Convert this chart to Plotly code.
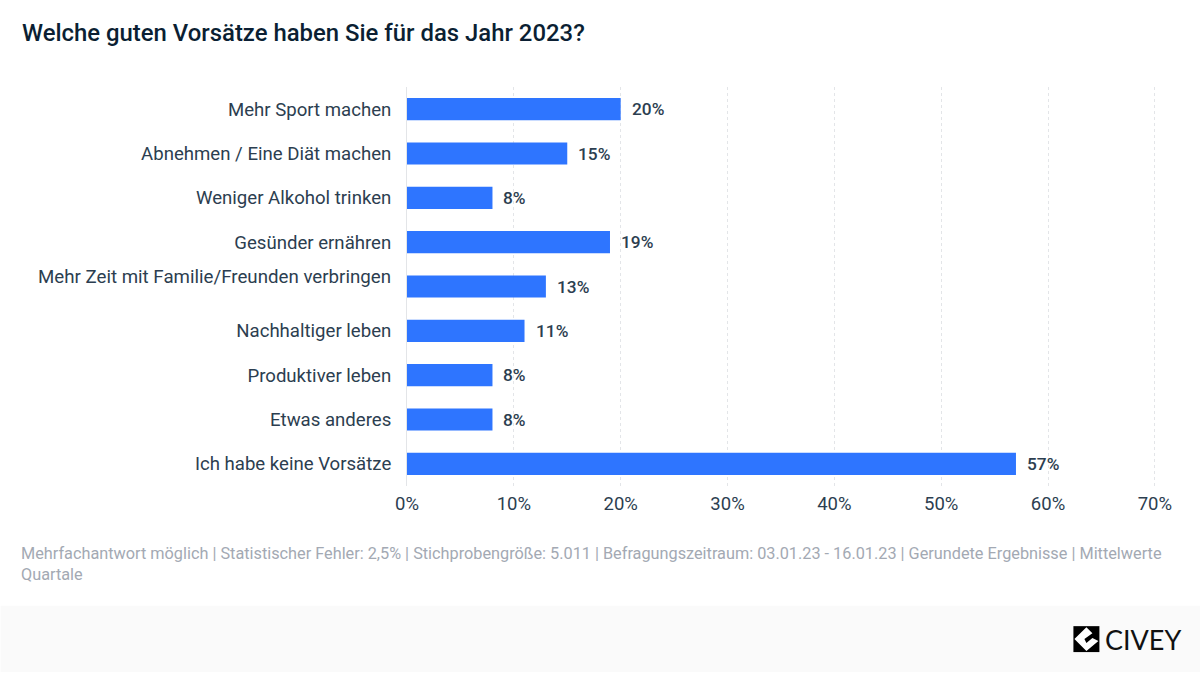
import plotly.graph_objects as go

categories = ["Mehr Sport machen", "Abnehmen / Eine Diät machen", "Weniger Alkohol trinken",
              "Gesünder ernähren", "Mehr Zeit mit Familie/Freunden verbringen", "Nachhaltiger leben",
              "Produktiver leben", "Etwas anderes", "Ich habe keine Vorsätze"]
values = [20, 15, 8, 19, 13, 11, 8, 8, 57]
x_ticks = [0, 10, 20, 30, 40, 50, 60, 70]
title = "Welche guten Vorsätze haben Sie für das Jahr 2023?"
footnote = ("Mehrfachantwort möglich | Statistischer Fehler: 2,5% | Stichprobengröße: 5.011 | "
            "Befragungszeitraum: 03.01.23 - 16.01.23 | Gerundete Ergebnisse | Mittelwerte<br>Quartale")
raised_label = "Mehr Zeit mit Familie/Freunden verbringen"

W, H = 1200, 673
L, R, T, B = 406.5, 43.4, 86.5, 186.5
TEXT = "#2c3e50"
FONT = "Roboto"

def px(x): return (x - L) / (W - L - R)
def py(y): return (H - B - y) / (H - T - B)

# The wrapped label sits higher than its bar in the reference, so it is an annotation
ticktext = ["" if c == raised_label else c for c in categories]

fig = go.Figure(go.Bar(
    x=values, y=categories, orientation="h",
    marker=dict(color="#2e75ff", line=dict(width=0)),
    hoverinfo="skip",
))

annotations = [dict(x=v, y=c, xref="x", yref="y", text=f"{v}%", showarrow=False,
                    xanchor="left", xshift=9, yshift=0,
                    font=dict(family=FONT, size=17.3, color=TEXT, weight=500))
               for c, v in zip(categories, values)]
annotations += [
    dict(x=0, y=raised_label, xref="x", yref="y", text=raised_label, showarrow=False,
         xanchor="right", xshift=-14, yshift=9.5,
         font=dict(family=FONT, size=18.7, color=TEXT)),
    dict(x=px(20), y=py(32), xref="paper", yref="paper", text=title, showarrow=False,
         xanchor="left", yanchor="middle", borderpad=0,
         font=dict(family=FONT, size=23.9, color="#0b1f33", weight=500)),
    dict(x=px(19), y=py(565), xref="paper", yref="paper", text=footnote, showarrow=False,
         xanchor="left", yanchor="middle", align="left", borderpad=0,
         font=dict(family=FONT, size=16.27, color="#a3a9b3")),
    dict(x=px(1182), y=py(640), xref="paper", yref="paper", text="CIVEY", showarrow=False,
         xanchor="right", yanchor="middle", borderpad=0,
         font=dict(family="Lato", size=27, color="#111111")),
]

shapes = [
    dict(type="rect", xref="paper", yref="paper", x0=px(0), x1=px(W), y0=py(H), y1=py(606.5),
         fillcolor="#fafafa", line=dict(width=0), layer="below"),
    dict(type="rect", xref="paper", yref="paper", x0=px(1073), x1=px(1099), y0=py(653), y1=py(627),
         fillcolor="#000000", line=dict(width=0)),
    dict(type="path", xref="paper", yref="paper",
         path=f"M {px(1074)} {py(640)} L {px(1086)} {py(628)} L {px(1092)} {py(634)} L {px(1084)} {py(640)} "
              f"L {px(1086)} {py(644)} L {px(1092)} {py(639)} L {px(1098)} {py(642)} L {px(1086)} {py(652)} Z",
         fillcolor="#ffffff", line=dict(width=0)),
]

fig.update_layout(
    width=W, height=H,
    margin=dict(l=L, r=R, t=T, b=B, autoexpand=False),
    paper_bgcolor="#ffffff", plot_bgcolor="#ffffff",
    bargap=0.5, showlegend=False,
    annotations=annotations, shapes=shapes,
    font=dict(family=FONT, size=18, color=TEXT),
    xaxis=dict(range=[0, 70.2], tickvals=x_ticks, ticktext=[f"{t}%" for t in x_ticks],
               showgrid=True, gridcolor="#e3e5e8", griddash="dot", gridwidth=1,
               zeroline=False, showline=False, ticks="", ticklabelstandoff=4,
               tickfont=dict(family=FONT, size=18.5, color=TEXT)),
    yaxis=dict(categoryorder="array", categoryarray=categories, autorange="reversed",
               tickvals=categories, ticktext=ticktext,
               showgrid=False, zeroline=False, showline=True, linecolor="#e3e5e8", linewidth=1,
               ticks="", ticklabelstandoff=11,
               tickfont=dict(family=FONT, size=18.6, color=TEXT)),
)

fig.write_html("out.html", config={"displayModeBar": False},
               post_script="document.body.style.margin='0';")
